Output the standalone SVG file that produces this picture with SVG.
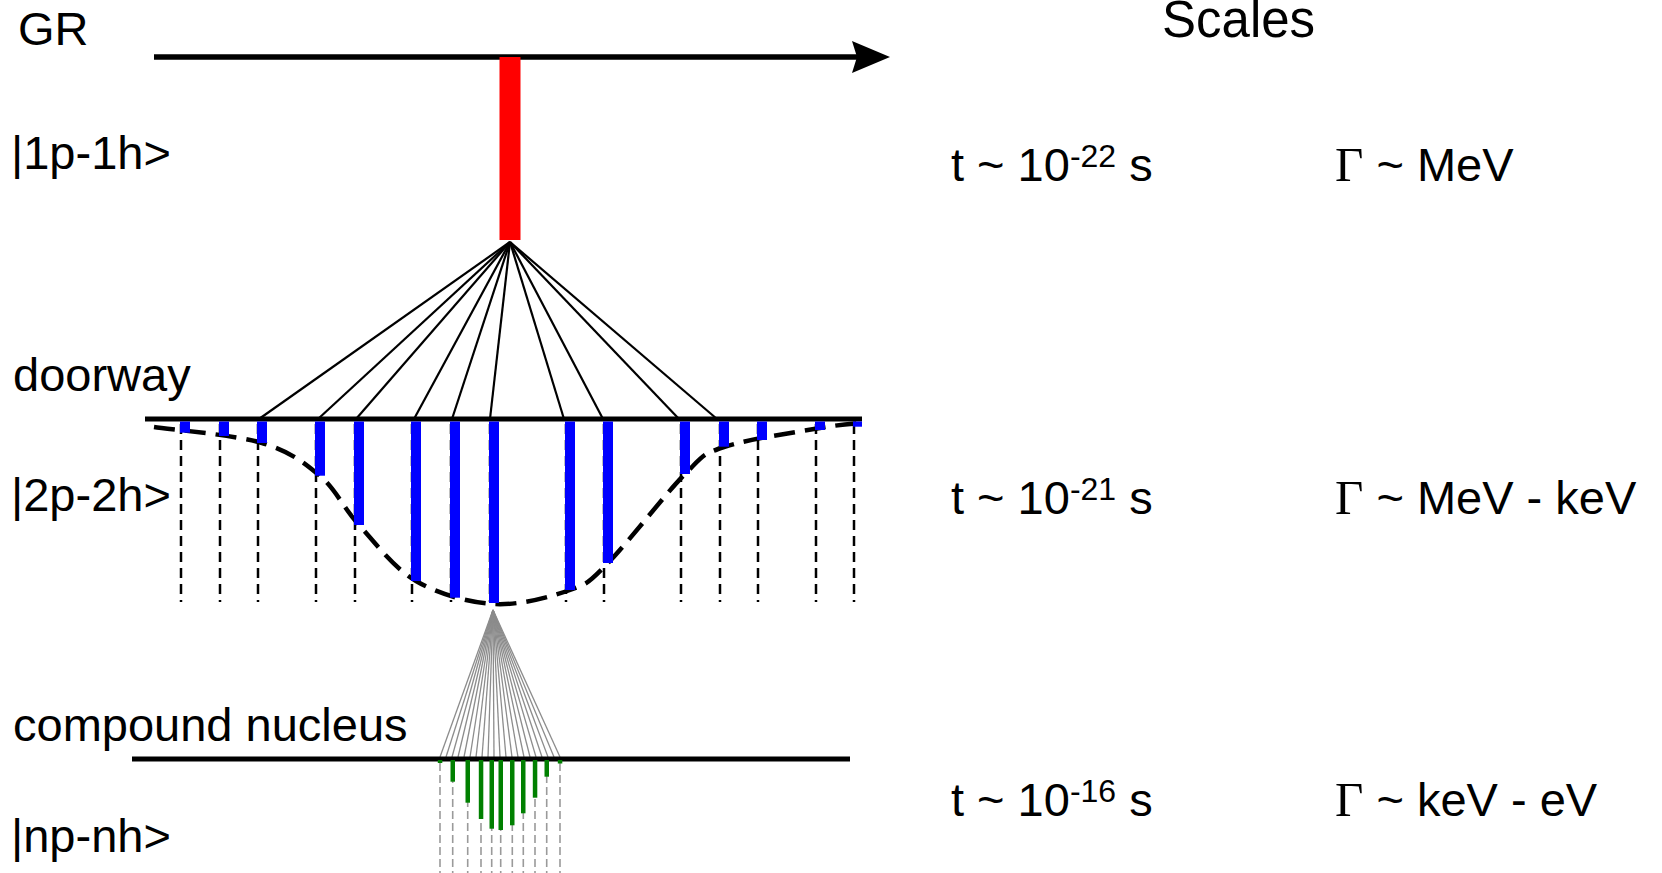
<svg xmlns="http://www.w3.org/2000/svg" width="1662" height="873" viewBox="0 0 1662 873">
<style>
.lbl{font-family:"Liberation Sans",Arial,sans-serif;font-size:47px;fill:#000}
.val{font-family:"Liberation Sans",Arial,sans-serif;font-size:47px;fill:#000}
.gam{font-family:"Liberation Serif","Times New Roman",serif;font-size:49px}
.sup{font-size:32px}
.level{stroke:#000;stroke-width:5;fill:none}
.fan{stroke:#000;stroke-width:2.2;fill:none}
.gfan{stroke:#8c8c8c;stroke-width:1.3;fill:none}
.vd{stroke:#000;stroke-width:2.5;stroke-dasharray:10 6;fill:none}
.gvd{stroke:#9a9a9a;stroke-width:1.6;stroke-dasharray:8 4;fill:none}
.blue{fill:#0000ff}
.green{fill:#008000}
</style>
<defs>
<marker id="arr" markerUnits="userSpaceOnUse" viewBox="0 0 38 32" refX="5" refY="16" markerWidth="38" markerHeight="32" orient="auto">
<path d="M0,0 L38,16 L0,32 L5,16 Z" fill="#000"/>
</marker>
</defs>
<rect width="1662" height="873" fill="#fff"/>

<g id="gr-axis">
<line x1="154" y1="57" x2="857" y2="57" stroke="#000" stroke-width="5.5" marker-end="url(#arr)"/>
</g>

<g id="connectors">
<g id="fan-1p1h">
<line class="fan" x1="510" y1="242" x2="259" y2="419"/>
<line class="fan" x1="510" y1="242" x2="318" y2="419"/>
<line class="fan" x1="510" y1="242" x2="356" y2="419"/>
<line class="fan" x1="510" y1="242" x2="414" y2="419"/>
<line class="fan" x1="510" y1="242" x2="452" y2="419"/>
<line class="fan" x1="510" y1="242" x2="490" y2="419"/>
<line class="fan" x1="510" y1="242" x2="564" y2="419"/>
<line class="fan" x1="510" y1="242" x2="603" y2="419"/>
<line class="fan" x1="510" y1="242" x2="679" y2="419"/>
<line class="fan" x1="510" y1="242" x2="717" y2="419"/>
</g>
<g id="fan-2p2h">
<line class="gfan" x1="493" y1="610" x2="440" y2="757"/>
<line class="gfan" x1="493" y1="610" x2="446" y2="757"/>
<line class="gfan" x1="493" y1="610" x2="452" y2="757"/>
<line class="gfan" x1="493" y1="610" x2="458" y2="757"/>
<line class="gfan" x1="493" y1="610" x2="464" y2="757"/>
<line class="gfan" x1="493" y1="610" x2="470" y2="757"/>
<line class="gfan" x1="493" y1="610" x2="476" y2="757"/>
<line class="gfan" x1="493" y1="610" x2="482" y2="757"/>
<line class="gfan" x1="493" y1="610" x2="488" y2="757"/>
<line class="gfan" x1="493" y1="610" x2="494" y2="757"/>
<line class="gfan" x1="493" y1="610" x2="500" y2="757"/>
<line class="gfan" x1="493" y1="610" x2="506" y2="757"/>
<line class="gfan" x1="493" y1="610" x2="512" y2="757"/>
<line class="gfan" x1="493" y1="610" x2="518" y2="757"/>
<line class="gfan" x1="493" y1="610" x2="524" y2="757"/>
<line class="gfan" x1="493" y1="610" x2="530" y2="757"/>
<line class="gfan" x1="493" y1="610" x2="536" y2="757"/>
<line class="gfan" x1="493" y1="610" x2="542" y2="757"/>
<line class="gfan" x1="493" y1="610" x2="548" y2="757"/>
<line class="gfan" x1="493" y1="610" x2="554" y2="757"/>
<line class="gfan" x1="493" y1="610" x2="560" y2="757"/>
</g>
</g>

<g id="red-state">
<rect x="499.5" y="57" width="21" height="183" fill="#ff0000"/>
</g>

<g id="doorway-level">
<line class="level" x1="145" y1="419" x2="862" y2="419"/>
<g id="doorway-dashes">
<line class="vd" x1="181" y1="424" x2="181" y2="602"/>
<line class="vd" x1="220" y1="424" x2="220" y2="602"/>
<line class="vd" x1="258" y1="424" x2="258" y2="602"/>
<line class="vd" x1="316" y1="424" x2="316" y2="602"/>
<line class="vd" x1="355" y1="424" x2="355" y2="602"/>
<line class="vd" x1="412" y1="424" x2="412" y2="602"/>
<line class="vd" x1="451" y1="424" x2="451" y2="602"/>
<line class="vd" x1="490" y1="424" x2="490" y2="602"/>
<line class="vd" x1="566" y1="424" x2="566" y2="602"/>
<line class="vd" x1="604" y1="424" x2="604" y2="602"/>
<line class="vd" x1="681" y1="424" x2="681" y2="602"/>
<line class="vd" x1="720" y1="424" x2="720" y2="602"/>
<line class="vd" x1="758" y1="424" x2="758" y2="602"/>
<line class="vd" x1="816" y1="424" x2="816" y2="602"/>
<line class="vd" x1="854" y1="424" x2="854" y2="602"/>
</g>
<path id="envelope" d="M154,427 C172,429.7 234.3,434.8 262,443 C289.7,451.2 303.8,462.3 320,476 C336.2,489.7 343,507.5 359,525 C375,542.5 393.5,567.8 416,581 C438.5,594.2 468.3,602.5 494,604 C519.7,605.5 551,596.8 570,590 C589,583.2 588.8,582.3 608,563 C627.2,543.7 665.7,493.3 685,474 C704.3,454.7 701.5,454.7 724,447 C746.5,439.3 797,432 820,428 C843,424 855,423.8 862,423" fill="none" stroke="#000" stroke-width="4.5" stroke-dasharray="21 10"/>
<g id="blue-states">
<rect class="blue" x="180" y="421.5" width="10" height="11.2"/>
<rect class="blue" x="219" y="421.5" width="10" height="14.5"/>
<rect class="blue" x="257" y="421.5" width="10" height="21.5"/>
<rect class="blue" x="315" y="421.5" width="10" height="54.2"/>
<rect class="blue" x="354" y="421.5" width="10" height="103.5"/>
<rect class="blue" x="411" y="421.5" width="10" height="159.5"/>
<rect class="blue" x="450" y="421.5" width="10" height="176.2"/>
<rect class="blue" x="489" y="421.5" width="10" height="181.5"/>
<rect class="blue" x="565" y="421.5" width="10" height="168.5"/>
<rect class="blue" x="603" y="421.5" width="10" height="141.5"/>
<rect class="blue" x="680" y="421.5" width="10" height="52.5"/>
<rect class="blue" x="719" y="421.5" width="10" height="25.2"/>
<rect class="blue" x="757" y="421.5" width="10" height="18.5"/>
<rect class="blue" x="815" y="421.5" width="10" height="8.5"/>
<rect class="blue" x="853" y="421.5" width="9" height="5.2"/>
</g>
</g>

<g id="compound-level">
<line class="level" x1="132" y1="759" x2="850" y2="759"/>
<g id="compound-dashes">
<line class="gvd" x1="440" y1="763" x2="440" y2="873"/>
<line class="gvd" x1="452.7" y1="763" x2="452.7" y2="873"/>
<line class="gvd" x1="467.7" y1="763" x2="467.7" y2="873"/>
<line class="gvd" x1="481" y1="763" x2="481" y2="873"/>
<line class="gvd" x1="491.7" y1="763" x2="491.7" y2="873"/>
<line class="gvd" x1="500.7" y1="763" x2="500.7" y2="873"/>
<line class="gvd" x1="512.3" y1="763" x2="512.3" y2="873"/>
<line class="gvd" x1="523.3" y1="763" x2="523.3" y2="873"/>
<line class="gvd" x1="535" y1="763" x2="535" y2="873"/>
<line class="gvd" x1="546.7" y1="763" x2="546.7" y2="873"/>
<line class="gvd" x1="560" y1="763" x2="560" y2="873"/>
</g>
<g id="green-states">
<rect class="green" x="437.8" y="760" width="4.5" height="3"/>
<rect class="green" x="450.5" y="760" width="4.5" height="21.7"/>
<rect class="green" x="465.5" y="760" width="4.5" height="42.7"/>
<rect class="green" x="478.8" y="760" width="4.5" height="59"/>
<rect class="green" x="489.5" y="760" width="4.5" height="68.7"/>
<rect class="green" x="498.5" y="760" width="4.5" height="70"/>
<rect class="green" x="510" y="760" width="4.5" height="65.3"/>
<rect class="green" x="521" y="760" width="4.5" height="53.3"/>
<rect class="green" x="532.8" y="760" width="4.5" height="37.7"/>
<rect class="green" x="544.5" y="760" width="4.5" height="16.7"/>
<rect class="green" x="557.8" y="760" width="4.5" height="3.5"/>
</g>
</g>

<g id="labels">
<text class="lbl" x="18" y="45">GR</text>
<text class="lbl" x="11" y="169">|1p-1h&gt;</text>
<text class="lbl" x="13" y="391">doorway</text>
<text class="lbl" x="11" y="511">|2p-2h&gt;</text>
<text class="lbl" x="13" y="741">compound nucleus</text>
<text class="lbl" x="11" y="852">|np-nh&gt;</text>
<text class="lbl" x="1162" y="37" style="font-size:51px">Scales</text>
</g>

<g id="scales">
<text class="val" x="951" y="181">t ~ 10<tspan class="sup" dy="-14">-22</tspan><tspan dy="14"> s</tspan></text>
<text class="val" x="1335" y="181"><tspan class="gam">Γ</tspan> ~ MeV</text>
<text class="val" x="951" y="514">t ~ 10<tspan class="sup" dy="-14">-21</tspan><tspan dy="14"> s</tspan></text>
<text class="val" x="1335" y="514"><tspan class="gam">Γ</tspan> ~ MeV - keV</text>
<text class="val" x="951" y="816">t ~ 10<tspan class="sup" dy="-14">-16</tspan><tspan dy="14"> s</tspan></text>
<text class="val" x="1335" y="816"><tspan class="gam">Γ</tspan> ~ keV - eV</text>
</g>
</svg>
